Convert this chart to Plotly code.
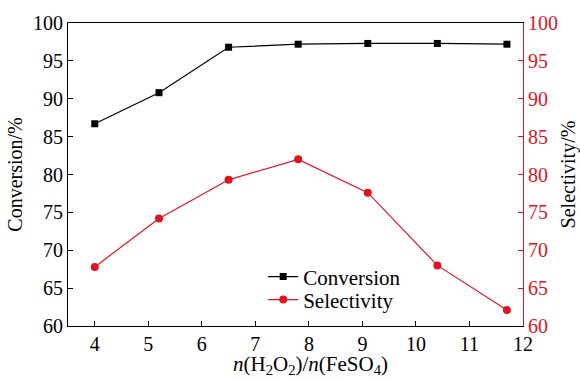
import plotly.graph_objects as go

ratio = [4.0, 5.2, 6.5, 7.8, 9.1, 10.4, 11.7]
conversion = [86.7, 90.8, 96.8, 97.2, 97.3, 97.3, 97.2]
selectivity = [67.8, 74.2, 79.3, 82.0, 77.6, 68.0, 62.1]
x_title = "<i>n</i>(H<sub>2</sub>O<sub>2</sub>)/<i>n</i>(FeSO<sub>4</sub>)"

FONT = "Liberation Serif"
RED = "#e0141e"
FS = 20

fig = go.Figure()
fig.add_trace(go.Scatter(x=ratio, y=conversion, name="Conversion", mode="lines+markers",
                         legend="legend",
                         line=dict(color="black", width=1.2),
                         marker=dict(symbol="square", size=7, color="black")))
fig.add_trace(go.Scatter(x=ratio, y=selectivity, name="Selectivity", mode="lines+markers",
                         yaxis="y2", legend="legend2",
                         line=dict(color=RED, width=1.2),
                         marker=dict(symbol="circle", size=8, color=RED)))

leg = dict(xanchor="left", yanchor="middle", bgcolor="rgba(0,0,0,0)",
           font=dict(family=FONT, size=21), itemwidth=30, borderwidth=0)

fig.update_layout(
    width=580, height=380,
    margin=dict(l=68, r=57, t=23, b=54, autoexpand=False),
    paper_bgcolor="white", plot_bgcolor="white",
    font=dict(family=FONT, size=FS, color="black"),
    showlegend=True,
    legend=dict(x=0.429, y=0.162, **leg),
    legend2=dict(x=0.429, y=0.086, **leg),
    xaxis=dict(range=[3.5, 12], tickmode="linear", tick0=4, dtick=1,
               ticks="inside", ticklen=5, tickcolor="black",
               showline=True, linecolor="black", linewidth=1.2, mirror=True,
               showgrid=False, zeroline=False, automargin=False),
    yaxis=dict(range=[60, 100], tickmode="linear", tick0=60, dtick=5,
               ticks="inside", ticklen=5, tickcolor="black",
               showline=True, linecolor="black", linewidth=1.2,
               showgrid=False, zeroline=False, automargin=False,
               title=dict(text="Conversion/%", font=dict(family=FONT, size=FS), standoff=4)),
    yaxis2=dict(range=[60, 100], tickmode="linear", tick0=60, dtick=5,
                overlaying="y", side="right",
                ticks="inside", ticklen=5, tickcolor=RED,
                showline=True, linecolor=RED, linewidth=1.2,
                tickfont=dict(color=RED, family=FONT, size=FS),
                showgrid=False, zeroline=False, automargin=False,
                title=dict(text="Selectivity/%", font=dict(family=FONT, size=FS, color="black"), standoff=5)),
    annotations=[dict(text=x_title, xref="paper", yref="paper", x=0.532, y=-0.128,
                      xanchor="center", yanchor="middle", showarrow=False,
                      font=dict(family=FONT, size=21, color="black"))],
)

fig.write_html("out.html", config={"displayModeBar": False},
               post_script="document.body.style.margin='0px';")
